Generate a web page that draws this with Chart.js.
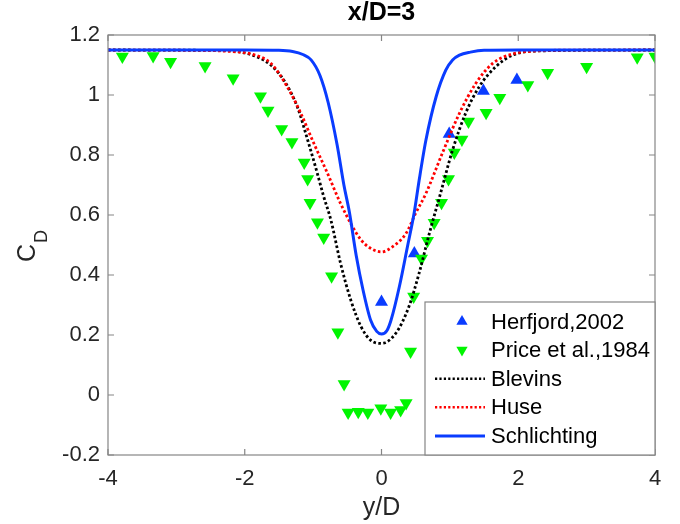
<!DOCTYPE html>
<html>
<head>
<meta charset="utf-8">
<script src="https://cdn.jsdelivr.net/npm/chart.js@4.4.1/dist/chart.umd.min.js"></script>
<style>
  html, body { margin: 0; padding: 0; background: #ffffff; }
  #wrap { width: 680px; height: 524px; }
</style>
</head>
<body>
<div id="wrap"><canvas id="c" width="680" height="524"></canvas></div>
<script>
// ---------- data ----------
const chartTitle = 'x/D=3';
const xLabel = 'y/D';
const yLabelMain = 'C';
const yLabelSub = 'D';
const xTickValues = [-4, -2, 0, 2, 4];
const yTickValues = [-0.2, 0, 0.2, 0.4, 0.6, 0.8, 1, 1.2];

const herfjordX = [0, 0.48, 0.99, 1.49, 1.98];
const herfjordY = [0.31, 0.472, 0.87, 1.013, 1.05];

const priceX = [-3.79, -3.34, -3.085, -2.58, -2.17, -1.77, -1.66, -1.46, -1.31, -1.13, -1.08, -1.045,
  -0.937, -0.845, -0.73, -0.638, -0.547, -0.488, -0.34, -0.2, -0.01, 0.133, 0.28, 0.36, 0.425,
  0.47, 0.585, 0.673, 0.77, 0.878, 0.98, 1.065, 1.176, 1.272, 1.53, 1.73, 2.14, 2.43, 3.0, 3.74, 4.0];
const priceY = [1.128, 1.13, 1.111, 1.097, 1.056, 0.996, 0.948, 0.887, 0.843, 0.775, 0.72, 0.641,
  0.576, 0.525, 0.396, 0.209, 0.037, -0.058, -0.056, -0.058, -0.044, -0.058, -0.05, -0.027, 0.145,
  0.328, 0.455, 0.514, 0.574, 0.641, 0.72, 0.808, 0.852, 0.912, 0.941, 0.991, 1.033, 1.074, 1.094, 1.126, 1.128];

const blevinsX = [-4, -2.3, -2.0, -1.8, -1.62, -1.43, -1.23, -1.08, -0.94, -0.85, -0.74, -0.6, -0.45,
  -0.3, -0.16, 0, 0.21, 0.4, 0.55, 0.7, 0.85, 1.04, 1.23, 1.43, 1.67, 1.92, 2.3, 4];
const blevinsY = [1.15, 1.148, 1.14, 1.125, 1.10, 1.05, 0.96, 0.85, 0.74, 0.665, 0.583, 0.44, 0.317,
  0.228, 0.183, 0.172, 0.206, 0.294, 0.406, 0.539, 0.661, 0.817, 0.939, 1.028, 1.094, 1.133, 1.147, 1.15];

const huseX = [-4, -2.5, -2.2, -1.91, -1.62, -1.38, -1.18, -0.99, -0.79, -0.6, -0.45, -0.3, -0.16, 0,
  0.16, 0.36, 0.5, 0.65, 0.89, 1.14, 1.38, 1.63, 1.92, 2.2, 2.5, 4];
const huseY = [1.15, 1.148, 1.145, 1.137, 1.106, 1.028, 0.939, 0.839, 0.739, 0.639, 0.572, 0.517, 0.489, 0.477,
  0.494, 0.539, 0.606, 0.672, 0.806, 0.939, 1.039, 1.106, 1.137, 1.146, 1.149, 1.15];

const schlichtingX = [-4, -2, -1.5, -1.3, -1.15, -1.03, -0.9, -0.78, -0.65, -0.55, -0.47, -0.37, -0.27,
  -0.16, -0.07, 0, 0.08, 0.14, 0.26, 0.38, 0.48, 0.55, 0.65, 0.8, 0.94, 1.04, 1.14, 1.3, 1.5, 2, 4];
const schlichtingY = [1.15, 1.15, 1.149, 1.145, 1.135, 1.117, 1.065, 0.975, 0.835, 0.70, 0.61, 0.465, 0.35,
  0.25, 0.212, 0.203, 0.215, 0.25, 0.36, 0.495, 0.61, 0.715, 0.85, 0.995, 1.083, 1.117, 1.133, 1.143, 1.149, 1.15, 1.15];

const seriesNames = ['Herfjord,2002', 'Price et al.,1984', 'Blevins', 'Huse', 'Schlichting'];

// ---------- styles ----------
const BLUE = '#0a3cff';
const GREEN = '#00f500';
const BLACK = '#000000';
const RED = '#ff0000';
const AXIS = '#858585';
const TEXT = '#262626';
const FONT = '"Liberation Sans", Arial, Helvetica, sans-serif';

const pts = (xs, ys) => xs.map((v, i) => ({ x: v, y: ys[i] }));

const datasets = [
  { label: seriesNames[0], data: pts(herfjordX, herfjordY), showLine: false,
    pointStyle: 'triangle', pointRadius: 7.5, backgroundColor: BLUE, borderColor: BLUE, borderWidth: 0, order: 4 },
  { label: seriesNames[1], data: pts(priceX, priceY), showLine: false,
    pointStyle: 'triangle', rotation: 180, pointRadius: 7.5, backgroundColor: GREEN, borderColor: GREEN, borderWidth: 0, order: 3 },
  { label: seriesNames[2], data: pts(blevinsX, blevinsY), showLine: true, pointRadius: 0,
    borderColor: BLACK, borderWidth: 2.8, borderDash: [2.6, 2.4], cubicInterpolationMode: 'monotone', order: 2 },
  { label: seriesNames[3], data: pts(huseX, huseY), showLine: true, pointRadius: 0,
    borderColor: RED, borderWidth: 2.8, borderDash: [2.6, 2.4], cubicInterpolationMode: 'monotone', order: 1 },
  { label: seriesNames[4], data: pts(schlichtingX, schlichtingY), showLine: true, pointRadius: 0,
    borderColor: BLUE, borderWidth: 3, cubicInterpolationMode: 'monotone', order: 0 }
];

const fmt = v => String(Number(Number(v).toFixed(1)));

const decor = {
  id: 'decor',
  afterDatasetsDraw(chart) {
    const { ctx, chartArea: a, scales: { x, y } } = chart;
    ctx.save();
    // box
    ctx.strokeStyle = AXIS; ctx.lineWidth = 1.2;
    ctx.strokeRect(a.left, a.top, a.right - a.left, a.bottom - a.top);
    // inward ticks on all four sides
    const TL = 6;
    ctx.beginPath();
    xTickValues.forEach(v => {
      const px = x.getPixelForValue(v);
      ctx.moveTo(px, a.bottom); ctx.lineTo(px, a.bottom - TL);
      ctx.moveTo(px, a.top); ctx.lineTo(px, a.top + TL);
    });
    yTickValues.forEach(v => {
      const py = y.getPixelForValue(v);
      ctx.moveTo(a.left, py); ctx.lineTo(a.left + TL, py);
      ctx.moveTo(a.right, py); ctx.lineTo(a.right - TL, py);
    });
    ctx.stroke();

    // legend (inside, bottom-right)
    const lw = 230, lh = 153;
    const lx = a.right - lw, ly = a.bottom - lh;
    ctx.fillStyle = '#ffffff';
    ctx.fillRect(lx, ly, lw, lh);
    ctx.strokeStyle = AXIS; ctx.lineWidth = 1.2;
    ctx.strokeRect(lx, ly, lw, lh);
    const rowH = 28.6;
    const firstY = ly + 19.5;
    ctx.font = '22px ' + FONT;
    ctx.textBaseline = 'middle';
    ctx.textAlign = 'left';
    chart.data.datasets.forEach((ds, i) => {
      const cy = firstY + i * rowH;
      const mx = lx + 37;
      if (!ds.showLine) {
        ctx.fillStyle = ds.backgroundColor;
        const r = 6.5;
        ctx.beginPath();
        const rot = (ds.rotation || 0) * Math.PI / 180;
        for (let k = 0; k < 3; k++) {
          const ang = rot + k * 2 * Math.PI / 3;
          const px = mx + Math.sin(ang) * r;
          const py = cy - Math.cos(ang) * r;
          if (k === 0) ctx.moveTo(px, py); else ctx.lineTo(px, py);
        }
        ctx.closePath();
        ctx.fill();
      } else {
        ctx.strokeStyle = ds.borderColor;
        ctx.lineWidth = ds.borderDash ? 2.4 : ds.borderWidth;
        ctx.setLineDash(ds.borderDash ? [2.2, 2.2] : []);
        ctx.beginPath();
        ctx.moveTo(lx + 10, cy); ctx.lineTo(lx + 60, cy);
        ctx.stroke();
        ctx.setLineDash([]);
      }
      ctx.fillStyle = '#000000';
      ctx.fillText(ds.label, lx + 66, cy + 1);
    });
    ctx.restore();
  },
  afterDraw(chart) {
    const { ctx, chartArea: a } = chart;
    const cx = (a.left + a.right) / 2;
    ctx.save();
    ctx.fillStyle = '#000000';
    ctx.textAlign = 'center';
    ctx.textBaseline = 'middle';
    ctx.font = 'bold 25px ' + FONT;
    ctx.fillText(chartTitle, cx, 13);
    ctx.fillStyle = TEXT;
    ctx.font = '25px ' + FONT;
    ctx.fillText(xLabel, cx, 508);
    // y label with subscript, rotated
    ctx.translate(35, 262);
    ctx.rotate(-Math.PI / 2);
    ctx.textAlign = 'left';
    ctx.textBaseline = 'alphabetic';
    ctx.font = '25px ' + FONT;
    ctx.fillText(yLabelMain, 0, 0);
    const w = ctx.measureText(yLabelMain).width;
    ctx.font = '18px ' + FONT;
    ctx.fillText(yLabelSub, w + 1, 12);
    ctx.restore();
  }
};

new Chart(document.getElementById('c'), {
  type: 'scatter',
  data: { datasets },
  options: {
    responsive: false,
    animation: false,
    layout: { padding: { left: 0, right: 25, top: 35, bottom: 0 } },
    plugins: { legend: { display: false }, tooltip: { enabled: false }, title: { display: false } },
    scales: {
      x: {
        type: 'linear', min: -4, max: 4,
        afterBuildTicks: s => { s.ticks = xTickValues.map(v => ({ value: v })); },
        ticks: { color: TEXT, font: { size: 22, family: FONT }, padding: 11, maxRotation: 0, callback: fmt },
        grid: { display: false, drawTicks: false },
        border: { display: false },
        afterFit: s => { s.height = 69; }
      },
      y: {
        type: 'linear', min: -0.2, max: 1.2,
        afterBuildTicks: s => { s.ticks = yTickValues.map(v => ({ value: v })); },
        ticks: { color: TEXT, font: { size: 22, family: FONT }, padding: 8, callback: fmt },
        grid: { display: false, drawTicks: false },
        border: { display: false },
        afterFit: s => { s.width = 108; }
      }
    }
  },
  plugins: [decor]
});
</script>
</body>
</html>
